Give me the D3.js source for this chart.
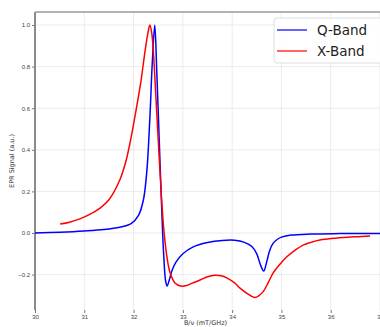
<!DOCTYPE html>
<html>
<head>
<meta charset="utf-8">
<script src="https://cdn.jsdelivr.net/npm/d3@7"></script>
<style>
  body { margin: 0; background: #fff; }
  svg { display: block; font-family: "DejaVu Sans", sans-serif; }
</style>
</head>
<body>
<svg id="chart"></svg>
<script>
const width = 380;
const height = 327;

// Q-Band (blue) trace
const qField = [30.0, 30.5, 31.0, 31.4, 31.72, 31.95, 32.1, 32.2, 32.27, 32.33, 32.38, 32.43, 32.47, 32.52, 32.57, 32.61, 32.65, 32.68, 32.72, 32.78, 32.86, 33.0, 33.2, 33.5, 33.8, 34.05, 34.25, 34.4, 34.5, 34.57, 34.64, 34.7, 34.76, 34.83, 34.92, 35.0, 35.2, 35.6, 36.2, 37.0];
const qSignal = [0.0, 0.004, 0.01, 0.017, 0.028, 0.045, 0.085, 0.16, 0.3, 0.55, 0.82, 1.0, 0.78, 0.45, 0.12, -0.1, -0.23, -0.255, -0.23, -0.18, -0.14, -0.1, -0.068, -0.046, -0.036, -0.035, -0.045, -0.065, -0.1, -0.15, -0.183, -0.14, -0.085, -0.05, -0.03, -0.02, -0.01, -0.005, -0.003, -0.002];

// X-Band (red) trace
const xField = [30.51, 30.7, 30.91, 31.1, 31.32, 31.5, 31.72, 31.85, 31.95, 32.05, 32.15, 32.23, 32.29, 32.33, 32.37, 32.42, 32.47, 32.53, 32.58, 32.62, 32.68, 32.74, 32.84, 32.96, 33.08, 33.2, 33.35, 33.5, 33.65, 33.8, 33.9, 34.05, 34.16, 34.3, 34.46, 34.55, 34.63, 34.73, 34.83, 34.97, 35.11, 35.28, 35.44, 35.6, 35.78, 36.1, 36.5, 36.8];
const xSignal = [0.043, 0.052, 0.068, 0.088, 0.12, 0.16, 0.255, 0.35, 0.46, 0.59, 0.73, 0.87, 0.96, 1.0, 0.96, 0.8, 0.58, 0.32, 0.12, 0.0, -0.12, -0.19, -0.24, -0.255, -0.252, -0.24, -0.226, -0.21, -0.203, -0.207, -0.217, -0.24, -0.265, -0.29, -0.31, -0.3, -0.282, -0.24, -0.193, -0.15, -0.114, -0.082, -0.058, -0.045, -0.034, -0.025, -0.018, -0.014];

const xTicks = [30, 31, 32, 33, 34, 35, 36, 37];
const yTicks = [-0.2, 0.0, 0.2, 0.4, 0.6, 0.8, 1.0];
const seriesNames = ['Q-Band', 'X-Band'];
const seriesColors = ['#0000ff', '#ff0000'];

const svg = d3.select('#chart').attr('width', width).attr('height', height);

const plotLeft = 35, plotRight = 380, plotTop = 12, plotBottom = 310;

const x = d3.scaleLinear().domain([30, 37]).range([plotLeft, plotRight]);
const y = d3.scaleLinear().domain([0, 1]).range([233, 25]);

// grid
svg.append('g').selectAll('line').data(xTicks).enter().append('line')
  .attr('x1', d => x(d)).attr('x2', d => x(d))
  .attr('y1', plotTop).attr('y2', plotBottom)
  .attr('stroke', '#e6e6e6').attr('stroke-width', 0.8);
svg.append('g').selectAll('line').data(yTicks).enter().append('line')
  .attr('x1', plotLeft).attr('x2', plotRight)
  .attr('y1', d => y(d)).attr('y2', d => y(d))
  .attr('stroke', '#e6e6e6').attr('stroke-width', 0.8);

// axes
const xAxis = svg.append('g').attr('transform', `translate(0,${plotBottom})`)
  .call(d3.axisBottom(x).tickValues(xTicks).tickSize(3).tickPadding(2).tickFormat(d3.format('d')));
const yAxis = svg.append('g').attr('transform', `translate(${plotLeft},0)`)
  .call(d3.axisLeft(y).tickValues(yTicks).tickSize(3).tickPadding(2).tickFormat(d3.format('.1f')));
xAxis.select('.domain').remove();
yAxis.select('.domain').remove();
[xAxis, yAxis].forEach(a => {
  a.selectAll('line').attr('stroke', '#777');
  a.selectAll('text').attr('fill', '#444').style('font-size', '6px');
});
yAxis.selectAll('text').text(d => d3.format('.1f')(d).replace('-', '\u2212'));

// frame: left spine and top spine
svg.append('line').attr('x1', plotLeft).attr('x2', plotLeft).attr('y1', plotTop).attr('y2', plotBottom)
  .attr('stroke', '#8a8a8a').attr('stroke-width', 2);
svg.append('line').attr('x1', plotLeft).attr('x2', plotRight).attr('y1', plotTop).attr('y2', plotTop)
  .attr('stroke', '#9a9a9a').attr('stroke-width', 1.5);

// labels
svg.append('text').attr('transform', `translate(12,${(plotTop + plotBottom) / 2}) rotate(-90)`)
  .attr('text-anchor', 'middle').attr('dominant-baseline', 'middle')
  .style('font-size', '6.5px').attr('fill', '#333').text('EPR Signal (a.u.)');
svg.append('text').attr('x', (plotLeft + plotRight) / 2 - 2).attr('y', 325)
  .attr('text-anchor', 'middle').style('font-size', '6.5px').attr('fill', '#333').text('B/\u03bd (mT/GHz)');

// curves
const line = d3.line().x(d => x(d[0])).y(d => y(d[1])).curve(d3.curveCatmullRom.alpha(0.5));
const series = [d3.zip(qField, qSignal), d3.zip(xField, xSignal)];
svg.append('g').selectAll('path').data(series).enter().append('path')
  .attr('d', line)
  .attr('fill', 'none')
  .attr('stroke', (d, i) => seriesColors[i])
  .attr('stroke-width', 1.5);

// legend
const legend = svg.append('g');
legend.append('rect').attr('x', 274).attr('y', 18).attr('width', 120).attr('height', 45).attr('rx', 3)
  .attr('fill', '#fff').attr('fill-opacity', 0.85).attr('stroke', '#d5d5d5').attr('stroke-width', 0.8);
seriesNames.forEach((name, i) => {
  const ly = 30 + i * 21;
  legend.append('line').attr('x1', 277).attr('x2', 307).attr('y1', ly).attr('y2', ly)
    .attr('stroke', seriesColors[i]).attr('stroke-width', 1.2);
  legend.append('text').attr('x', 317).attr('y', ly).attr('dominant-baseline', 'central')
    .style('font-size', '13.5px').attr('fill', '#222').text(name);
});
</script>
</body>
</html>
